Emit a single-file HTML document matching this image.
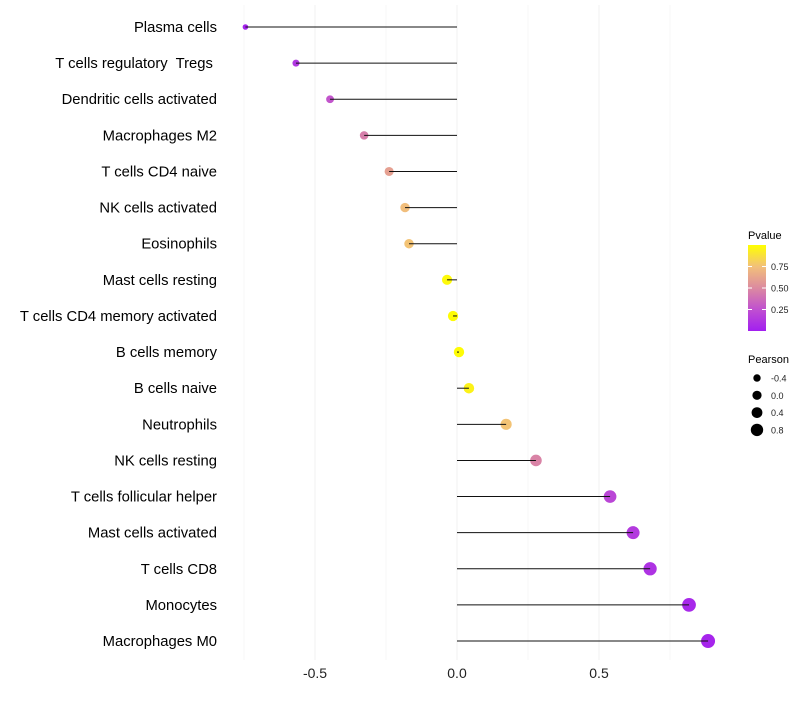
<!DOCTYPE html>
<html><head><meta charset="utf-8"><style>
body{margin:0;background:#fff}
text{font-family:"Liberation Sans",sans-serif;white-space:pre}
</style></head><body>
<svg id="chart" width="800" height="700" xml:space="preserve">
<g id="grid"></g><g id="points"></g><g id="segs"></g><g id="ylabels"></g><g id="xticks"></g>
<g id="legend">
<defs><linearGradient id="pg" x1="0" y1="1" x2="0" y2="0">
<stop offset="0" stop-color="#a21ff0"/><stop offset="0.25" stop-color="#c050d0"/><stop offset="0.5" stop-color="#dc8aa0"/><stop offset="0.75" stop-color="#f2c07a"/><stop offset="1" stop-color="#ffff00"/></linearGradient></defs>
<text x="748" y="239" font-size="11" fill="#000">Pvalue</text>
<rect x="748" y="245" width="18" height="86" fill="url(#pg)"/>
<g id="cbticks"></g>
<text x="748" y="363" font-size="11" fill="#000">Pearson</text>
<g id="sizeleg"></g>
</g>
</svg>
<script>
const cells=["Plasma cells","T cells regulatory  Tregs ","Dendritic cells activated","Macrophages M2","T cells CD4 naive","NK cells activated","Eosinophils","Mast cells resting","T cells CD4 memory activated","B cells memory","B cells naive","Neutrophils","NK cells resting","T cells follicular helper","Mast cells activated","T cells CD8","Monocytes","Macrophages M0"];
const pearson=[-0.745,-0.567,-0.447,-0.327,-0.239,-0.183,-0.169,-0.035,-0.014,0.007,0.042,0.173,0.278,0.539,0.62,0.68,0.817,0.884];
const pvalue=[0.02,0.12,0.27,0.45,0.6,0.74,0.76,0.98,0.99,0.99,0.95,0.76,0.47,0.2,0.14,0.1,0.05,0.03];
const xTicks=[-0.5,0,0.5];
const xTickLabels=["-0.5","0.0","0.5"];
const cbTicks=[0.25,0.5,0.75];
const sizeLegend=[-0.4,0,0.4,0.8];
const NS="http://www.w3.org/2000/svg";
const xs=v=>457+v*284;
const ys=i=>27+i*36.12;
const rs=v=>Math.sqrt(Math.max(2.5,26.6+25.3*v));
const stops=[[0,[162,31,240]],[0.25,[192,80,208]],[0.5,[220,138,160]],[0.75,[242,192,122]],[1,[255,255,0]]];
function col(p){for(let k=1;k<stops.length;k++){if(p<=stops[k][0]){const a=stops[k-1],b=stops[k],t=(p-a[0])/(b[0]-a[0]);return 'rgb('+a[1].map((c,j)=>Math.round(c+(b[1][j]-c)*t)).join(',')+')';}}return 'rgb(255,255,0)';}
function mk(tag,attrs,parent){const e=document.createElementNS(NS,tag);for(const k in attrs)e.setAttribute(k,attrs[k]);document.getElementById(parent).appendChild(e);return e;}
[-0.75,-0.25,0.25,0.75].forEach(v=>{const l=mk('line',{x1:xs(v),x2:xs(v),y1:5,y2:660,stroke:'#f7f7f7','stroke-width':1},'grid');

});
xTicks.forEach((v,i)=>{const l=mk('line',{x1:xs(v),x2:xs(v),y1:5,y2:660,stroke:'#f0f0f0','stroke-width':1},'grid');


const t=mk('text',{x:xs(v),y:678,'font-size':14,'text-anchor':'middle',fill:'#222'},'xticks');t.textContent=xTickLabels[i];

});
cells.forEach((c,i)=>{const y=ys(i);
const t=mk('text',{x:217,y:y+5,'font-size':14.8,'text-anchor':'end',fill:'#000'},'ylabels');t.textContent=c;


const p=mk('circle',{cx:xs(pearson[i]),cy:y,r:rs(pearson[i]),fill:col(pvalue[i])},'points');


const s=mk('line',{x1:xs(0),x2:xs(pearson[i]),y1:y,y2:y,stroke:'#111','stroke-width':1},'segs');

});
cbTicks.forEach(v=>{const y=331-v*86;
const t=mk('text',{x:771,y:y+3.5,'font-size':9,fill:'#222'},'cbticks');t.textContent=v.toFixed(2);


const l=mk('line',{x1:748,x2:752,y1:y,y2:y,stroke:'#fff'},'cbticks');


const l2=mk('line',{x1:762,x2:766,y1:y,y2:y,stroke:'#fff'},'cbticks');

});
sizeLegend.forEach((v,i)=>{const y=378+i*17.3;
const c=mk('circle',{cx:757,cy:y,r:[3.7,4.6,5.4,6.2][i],fill:'#000'},'sizeleg');


const t=mk('text',{x:771,y:y+3.5,'font-size':9,fill:'#222'},'sizeleg');t.textContent=v.toFixed(1);

});
</script>
</body></html>
